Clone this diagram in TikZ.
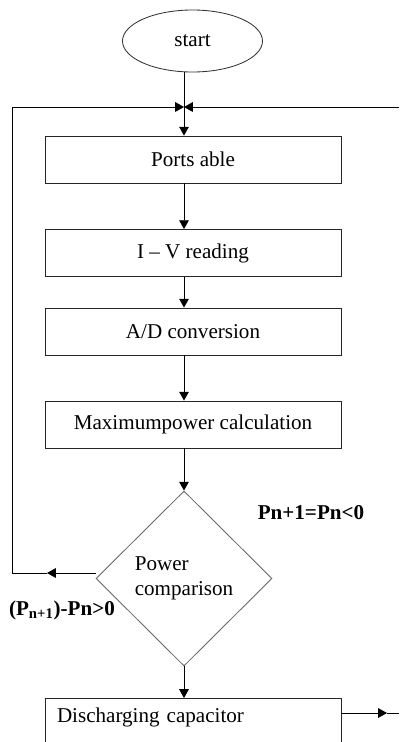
\documentclass[tikz,border=0pt]{standalone}
\usepackage{fontspec}
\setmainfont{Liberation Serif}
\usepackage{tikz}
\usetikzlibrary{shapes.geometric,arrows.meta}

\begin{document}
\begin{tikzpicture}[
    block/.style={rectangle, draw=black!85, line width=0.6pt, minimum width=7.4cm, minimum height=1.175cm, text centered, font=\fontsize{15}{18}\selectfont},
    terminal/.style={ellipse, draw=black!80, line width=0.6pt, minimum width=3.5cm, minimum height=1.55cm, font=\fontsize{15}{18}\selectfont},
    decision/.style={diamond, draw=black!60, line width=0.6pt, minimum width=4.4cm, minimum height=4.375cm, inner sep=0pt, align=left, font=\fontsize{15}{18}\selectfont},
    arrow/.style={-{Triangle[length=0.22cm,width=0.24cm]}, line width=0.6pt},
    cond/.style={font=\fontsize{15}{18}\selectfont\bfseries}
]
    \useasboundingbox (0,0) rectangle (9.975,-18.55);

    \node[terminal] (start) at (4.8125,-1.025) {start};
    \coordinate (jn) at (4.6,-2.675);

    \node[block] (ports) at (4.825,-3.9875) {Ports able};
    \node[block] (iv) at (4.825,-6.325) {I -- V reading};
    \node[block] (ad) at (4.825,-8.2875) {A/D conversion};
    \node[block] (maxp) at (4.825,-10.6125) {Maximumpower calculation};

    \node[decision] (dec) at (4.6,-14.4625) {Power\\comparison};

    \node[block, anchor=north, text width=6.8cm, align=left, inner xsep=0.3cm, inner ysep=7pt, text depth=1.1cm] (disc) at (4.825,-17.45) {Discharging capacitor};

    % loop-back corners and free ends
    \coordinate (ml) at (1.175,-14.325);
    \coordinate (bl) at (0.3,-14.325);
    \coordinate (tr) at (9.975,-2.675);
    \coordinate (dr) at (9.675,-17.825);
    \coordinate (re) at (9.975,-17.825);

    \draw[arrow] (start.south -| jn) -- (ports.north -| jn);
    \draw[arrow] (ports.south -| jn) -- (iv.north -| jn);
    \draw[arrow] (iv.south -| jn) -- (ad.north -| jn);
    \draw[arrow] (ad.south -| jn) -- (maxp.north -| jn);
    \draw[arrow] (maxp.south -| jn) -- (dec.north);
    \draw[arrow] (dec.south) -- (disc.north -| dec.south);

    \draw[arrow] (dec.west |- ml) -- (ml);
    \draw[line width=0.6pt] (ml) -- (bl);
    \draw[arrow] (bl) |- (jn);
    \draw[arrow] (tr) -- (jn);

    \draw[arrow] (disc.east |- dr) -- (dr);
    \draw[line width=0.6pt] (dr) -- (re);

    \node[cond] (gt) at (1.55,-15.25) {(P\textsubscript{n+1})-Pn>0};
    \node[cond] (lt) at (7.775,-12.825) {Pn+1=Pn<0};
\end{tikzpicture}
\end{document}
